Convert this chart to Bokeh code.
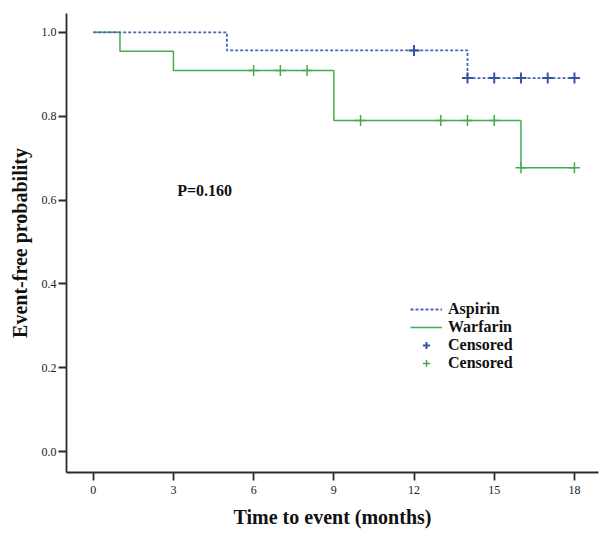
from bokeh.plotting import figure
from bokeh.models import (Legend, LegendItem, FixedTicker, Label, Range1d)
from bokeh.embed import file_html
from bokeh.resources import INLINE

# ---- data ----
aspirin_t = [0, 5, 14, 18]
aspirin_s = [1.0, 0.957, 0.891, 0.891]
aspirin_cens_t = [12, 14, 15, 16, 17, 18]
aspirin_cens_s = [0.957, 0.891, 0.891, 0.891, 0.891, 0.891]

warfarin_t = [0, 1, 3, 9, 16, 18]
warfarin_s = [1.0, 0.955, 0.909, 0.790, 0.677, 0.677]
warfarin_cens_t = [6, 7, 8, 10, 13, 14, 15, 16, 18]
warfarin_cens_s = [0.909, 0.909, 0.909, 0.790, 0.790, 0.790, 0.790, 0.677, 0.677]

x_ticks = [0, 3, 6, 9, 12, 15, 18]
y_ticks = [0.0, 0.2, 0.4, 0.6, 0.8, 1.0]
y_tick_labels = ["0.0", "0.2", "0.4", "0.6", "0.8", "1.0"]
p_value_text = "P=0.160"
x_label = "Time to event (months)"
y_label = "Event-free probability"

BLUE = "#4766bd"
BLUE_M = "#3554a8"
GREEN = "#43ad4c"
SERIF = "Liberation Serif"
AXIS_COL = "#2b2b2b"

p = figure(width=602, height=530, output_backend="svg", toolbar_location=None,
           x_range=Range1d(-1.0, 18.9), y_range=Range1d(-0.05, 1.045),
           min_border_left=66, min_border_right=4, min_border_top=13, min_border_bottom=58)
p.outline_line_color = None
p.xgrid.grid_line_color = None
p.ygrid.grid_line_color = None

g_line = p.step(warfarin_t, warfarin_s, mode="after", line_color=GREEN, line_width=1.5)
a_line = p.step(aspirin_t, aspirin_s, mode="after", line_color=BLUE, line_width=1.8,
                line_dash="3 2")
a_cens = p.scatter(aspirin_cens_t, aspirin_cens_s, marker="cross", size=11,
                   line_color=BLUE_M, line_width=2)
g_cens = p.scatter(warfarin_cens_t, warfarin_cens_s, marker="cross", size=11,
                   line_color=GREEN, line_width=1.5)

p.add_layout(Label(x=3.14, y=0.623, text=p_value_text, text_font=SERIF,
                   text_font_style="bold", text_font_size="16px",
                   text_baseline="middle", text_color="#111111"))

legend = Legend(items=[
    LegendItem(label="Aspirin", renderers=[a_line]),
    LegendItem(label="Warfarin", renderers=[g_line]),
    LegendItem(label="Censored", renderers=[a_cens]),
    LegendItem(label="Censored", renderers=[g_cens]),
], location=(344, 100), orientation="vertical")
legend.background_fill_alpha = 0
legend.border_line_color = None
legend.padding = 0
legend.margin = 0
legend.spacing = 0
legend.glyph_width = 32
legend.glyph_height = 18
legend.label_height = 18
legend.label_standoff = 6
legend.label_text_font = SERIF
legend.label_text_font_style = "bold"
legend.label_text_font_size = "16px"
legend.label_text_color = "#111111"
p.add_layout(legend, "center")

for ax in (p.xaxis[0], p.yaxis[0]):
    ax.axis_line_color = AXIS_COL
    ax.axis_line_width = 1.8
    ax.major_tick_line_color = AXIS_COL
    ax.major_tick_line_width = 1.8
    ax.major_tick_in = 0
    ax.major_tick_out = 8
    ax.minor_tick_line_color = None
    ax.major_label_text_font = SERIF
    ax.major_label_text_font_size = "12px"
    ax.major_label_text_color = "#222222"
    ax.axis_label_text_font = SERIF
    ax.axis_label_text_font_style = "bold"
    ax.axis_label_text_font_size = "20px"
    ax.axis_label_text_color = "#111111"

p.xaxis.ticker = FixedTicker(ticks=x_ticks)
p.xaxis.major_label_standoff = 5
p.xaxis.axis_label = x_label
p.xaxis.axis_label_standoff = 9

p.yaxis.ticker = FixedTicker(ticks=y_ticks)
p.yaxis.major_label_overrides = {t: l for t, l in zip(y_ticks, y_tick_labels)}
p.yaxis.major_label_standoff = 2
p.yaxis.axis_label = y_label
p.yaxis.axis_label_standoff = 8

open("out.html", "w").write(file_html(p, INLINE))
